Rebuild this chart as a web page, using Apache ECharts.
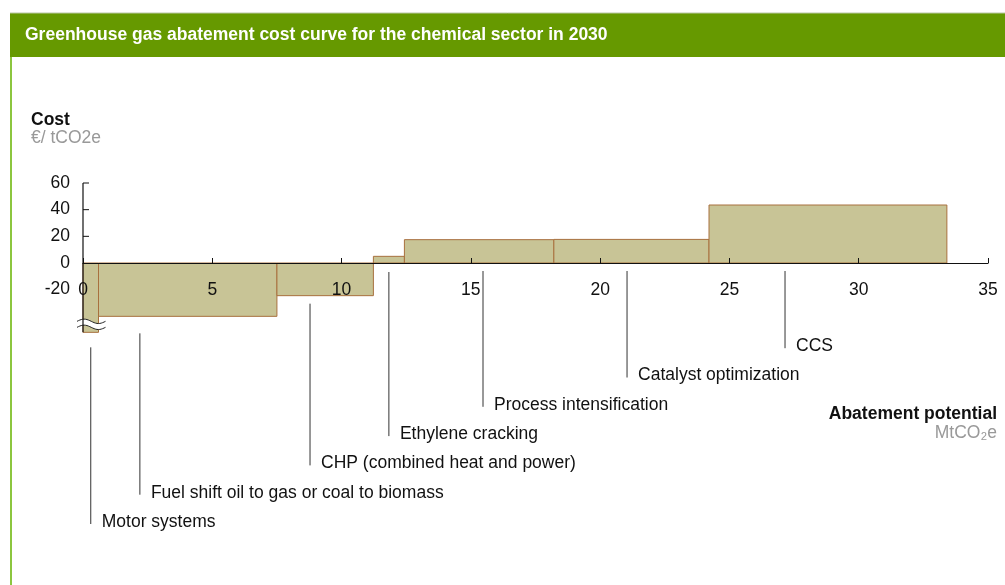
<!DOCTYPE html>
<html>
<head>
<meta charset="utf-8">
<script src="https://cdn.jsdelivr.net/npm/echarts@6/dist/echarts.min.js"></script>
<style>
  html, body { margin: 0; padding: 0; background: #fff; }
  #chart { width: 1005px; height: 585px; }
</style>
</head>
<body>
<div id="chart"></div>
<script>
// abatement measures, left to right
const measures = [
  'Motor systems',
  'Fuel shift oil to gas or coal to biomass',
  'CHP (combined heat and power)',
  'Ethylene cracking',
  'Process intensification',
  'Catalyst optimization',
  'CCS'
];
// abatement potential of each measure, MtCO2e (bar widths)
const potentials = [0.6, 6.9, 3.73, 1.2, 5.78, 6.0, 9.2];
// cost, EUR / tCO2e (motor systems runs off the scale, drawn cut)
const costs = [-52, -40, -24.5, 5, 17.5, 17.7, 43.5];
const brokenBars = [true, false, false, false, false, false, false];

const xTicks = [0, 5, 10, 15, 20, 25, 30, 35];
const yTicks = [-20, 0, 20, 40, 60];

// layout of the call-out lines (not data)
const LEADER_X = [0.3, 2.2, 8.78, 11.83, 15.47, 21.04, 27.15];
const LEADER_GAP = [15, 17, 8, 9, 8, 8, 8];
const LABEL_BASE = 522;
const LABEL_STEP = 29.3;

const FONT = 'Liberation Sans, Arial, Helvetica, sans-serif';
const FS = '17.5px ';
const BAR_FILL = '#c8c496';
const BAR_EDGE = '#a8703e';

// running start of each bar
const starts = [];
potentials.reduce((acc, w, i) => { starts[i] = acc; return acc + w; }, 0);
const barData = measures.map((name, i) => [starts[i], starts[i] + potentials[i], costs[i], i]);

const chart = echarts.init(document.getElementById('chart'));

function renderBar(params, api) {
  const i = api.value(3);
  const p0 = api.coord([api.value(0), 0]);
  const p1 = api.coord([api.value(1), api.value(2)]);
  const rect = {
    x: p0[0],
    y: Math.min(p0[1], p1[1]),
    width: p1[0] - p0[0],
    height: Math.abs(p1[1] - p0[1])
  };
  const children = [{
    type: 'rect',
    shape: rect,
    style: { fill: BAR_FILL, stroke: BAR_EDGE, lineWidth: 1 }
  }];
  if (brokenBars[i]) {
    // axis break glyph near the bottom of the cut bar
    const yb = p1[1] - 8;
    const xa = p0[0] - 6, xb = p1[0] + 7;
    const wave = (off) => {
      const pts = [];
      for (let k = 0; k <= 20; k++) {
        const x = xa + (xb - xa) * k / 20;
        pts.push([x, yb + off - 2.2 * Math.sin(k / 20 * Math.PI * 2)]);
      }
      return pts;
    };
    const top = wave(-3), bot = wave(3);
    children.push({
      type: 'polygon',
      shape: { points: top.concat(bot.slice().reverse()) },
      style: { fill: '#fff' }
    });
    children.push({ type: 'polyline', shape: { points: top }, style: { stroke: '#222', lineWidth: 1, fill: null } });
    children.push({ type: 'polyline', shape: { points: bot }, style: { stroke: '#222', lineWidth: 1, fill: null } });
  }
  return { type: 'group', children };
}

// y axis line + ticks, and x tick labels hanging just under the zero line
function renderAxes(params, api) {
  const top = api.coord([0, yTicks[yTicks.length - 1]]);
  const bottom = api.coord([0, costs[0]]);
  const children = [{
    type: 'line',
    shape: { x1: top[0], y1: top[1], x2: bottom[0], y2: bottom[1] },
    style: { stroke: '#111', lineWidth: 1.2 }
  }];
  yTicks.filter(v => v > 0).forEach(v => {
    const p = api.coord([0, v]);
    children.push({
      type: 'line',
      shape: { x1: p[0], y1: p[1], x2: p[0] + 6, y2: p[1] },
      style: { stroke: '#111', lineWidth: 1 }
    });
  });
  xTicks.forEach(v => {
    const p = api.coord([v, 0]);
    children.push({
      type: 'text',
      style: {
        x: p[0], y: p[1] + 27,
        text: String(v),
        fill: '#111',
        font: FS + FONT,
        align: 'center',
        verticalAlign: 'middle'
      }
    });
  });
  return { type: 'group', children };
}

function renderLeader(params, api) {
  const i = api.value(0);
  const ax = api.coord([LEADER_X[i], 0]);
  const bar = api.coord([LEADER_X[i], Math.min(costs[i], 0)]);
  const y0 = Math.max(ax[1], bar[1]) + LEADER_GAP[i];
  const yl = LABEL_BASE - i * LABEL_STEP;
  return {
    type: 'group',
    children: [{
      type: 'line',
      shape: { x1: ax[0], y1: y0, x2: ax[0], y2: yl + 2 },
      style: { stroke: '#333', lineWidth: 1 }
    }, {
      type: 'text',
      style: {
        x: ax[0] + 11, y: yl,
        text: measures[i],
        fill: '#111',
        font: FS + FONT,
        verticalAlign: 'middle'
      }
    }]
  };
}

chart.setOption({
  animation: false,
  grid: { left: 83, right: 17, top: 183, height: 260 * 4 / 3 },
  xAxis: {
    type: 'value',
    min: xTicks[0],
    max: xTicks[xTicks.length - 1],
    interval: 5,
    z: 10,
    axisLine: { onZero: true, lineStyle: { color: '#111', width: 1.2 } },
    axisTick: { inside: true, length: 5, lineStyle: { color: '#111' } },
    axisLabel: { show: false },
    splitLine: { show: false }
  },
  yAxis: {
    type: 'value',
    min: -200,
    max: 60,
    interval: 20,
    axisLine: { show: false },
    axisTick: { show: false },
    splitLine: { show: false },
    axisLabel: {
      margin: 13,
      fontSize: 17.5,
      color: '#111',
      fontFamily: FONT,
      formatter: v => (yTicks.indexOf(v) >= 0 ? String(v) : '')
    }
  },
  graphic: [
    { type: 'rect', shape: { x: 10, y: 13, width: 995, height: 44 }, style: { fill: '#669900' } },
    { type: 'line', shape: { x1: 10, y1: 13, x2: 1005, y2: 13 }, style: { stroke: '#b9c7a4', lineWidth: 1 } },
    { type: 'rect', shape: { x: 10, y: 57, width: 2, height: 528 }, style: { fill: '#8cc63f' } },
    {
      type: 'text', x: 25, y: 35,
      style: { text: 'Greenhouse gas abatement cost curve for the chemical sector in 2030', fill: '#fff', font: 'bold ' + FS + FONT, verticalAlign: 'middle' }
    },
    { type: 'text', x: 31, y: 120, style: { text: 'Cost', fill: '#111', font: 'bold ' + FS + FONT, verticalAlign: 'middle' } },
    { type: 'text', x: 31, y: 138, style: { text: '€/ tCO2e', fill: '#999', font: FS + FONT, verticalAlign: 'middle' } },
    { type: 'text', x: 997, y: 414, style: { text: 'Abatement potential', fill: '#111', font: 'bold ' + FS + FONT, align: 'right', verticalAlign: 'middle' } },
    { type: 'text', x: 997, y: 433, style: { text: 'MtCO₂e', fill: '#999', font: FS + FONT, align: 'right', verticalAlign: 'middle' } }
  ],
  series: [
    {
      type: 'custom',
      name: 'cost curve',
      renderItem: renderBar,
      encode: { x: [0, 1], y: 2 },
      data: barData,
      clip: false,
      z: 2
    },
    {
      type: 'custom',
      name: 'axes',
      renderItem: renderAxes,
      data: [[0]],
      silent: true,
      z: 5
    },
    {
      type: 'custom',
      name: 'leaders',
      renderItem: renderLeader,
      data: measures.map((m, i) => [i]),
      silent: true,
      z: 3
    }
  ]
});
</script>
</body>
</html>
